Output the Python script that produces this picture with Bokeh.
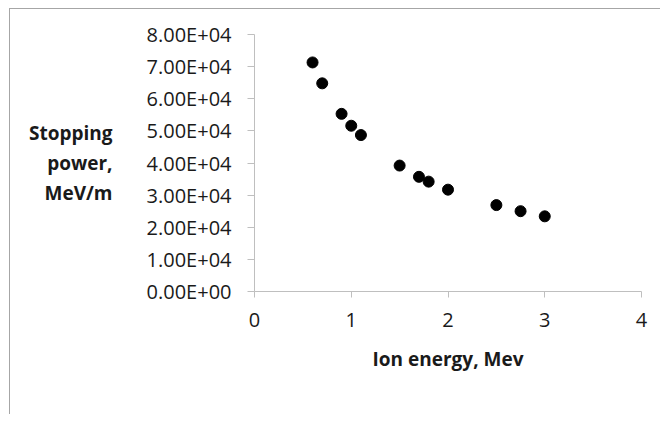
from bokeh.plotting import figure
from bokeh.models import FixedTicker, Range1d
from bokeh.embed import file_html
from bokeh.resources import INLINE

# Data
ion_energy = [0.6, 0.7, 0.9, 1.0, 1.1, 1.5, 1.7, 1.8, 2.0, 2.5, 2.75, 3.0]
stopping_power = [71300, 64800, 55300, 51600, 48700, 39200, 35700, 34200, 31700, 26900, 25000, 23400]

x_ticks = [0, 1, 2, 3, 4]
y_ticks = [0, 10000, 20000, 30000, 40000, 50000, 60000, 70000, 80000]
y_tick_labels = ["0.00E+00", "1.00E+04", "2.00E+04", "3.00E+04", "4.00E+04",
                 "5.00E+04", "6.00E+04", "7.00E+04", "8.00E+04"]

x_title = "Ion energy, Mev"
y_title = "Stopping\npower,\nMeV/m"

FONT = "Open Sans"
AXIS_COLOR = "#BFBFBF"
BORDER_COLOR = "#A6A6A6"
TEXT_COLOR = "#1a1a1a"

p = figure(width=660, height=414, output_backend="svg", toolbar_location=None,
           x_range=Range1d(0, 4), y_range=Range1d(0, 80000),
           min_border_left=254, min_border_right=19, min_border_top=34, min_border_bottom=123)
# outer chart border (left and top edges visible, the rest is cut off)
grad = f"linear-gradient({BORDER_COLOR}, {BORDER_COLOR})"
p.styles = {"background-color": "white",
            "background-image": f"{grad}, {grad}",
            "background-size": "1px 100%, 100% 1px",
            "background-position": "9px 8px, 9px 8px",
            "background-repeat": "no-repeat"}
p.outline_line_color = None
p.xgrid.visible = False
p.ygrid.visible = False
p.background_fill_alpha = 0
p.border_fill_alpha = 0

p.scatter(ion_energy, stopping_power, size=11, color="black")

# axes
p.xaxis.ticker = FixedTicker(ticks=x_ticks)
p.yaxis.ticker = FixedTicker(ticks=y_ticks)
p.yaxis.major_label_overrides = {t: l for t, l in zip(y_ticks, y_tick_labels)}
for ax in (p.xaxis[0], p.yaxis[0]):
    ax.axis_line_color = AXIS_COLOR
    ax.major_tick_line_color = AXIS_COLOR
    ax.minor_tick_line_color = None
    ax.major_tick_in = 0
    ax.major_tick_out = 6
    ax.major_label_text_font = FONT
    ax.major_label_text_font_size = "20px"
    ax.major_label_text_color = TEXT_COLOR
    ax.axis_label_text_font = FONT
    ax.axis_label_text_font_style = "bold"
    ax.axis_label_text_font_size = "19px"
    ax.axis_label_text_color = TEXT_COLOR
p.yaxis.major_tick_out = 7
p.yaxis.major_label_standoff = 16
p.xaxis.major_label_standoff = 15

p.xaxis.axis_label = x_title
p.xaxis.axis_label_standoff = 16

p.yaxis.axis_label = y_title
p.yaxis.axis_label_orientation = "horizontal"
p.yaxis.axis_label_standoff = 31
p.yaxis.axis_label_text_line_height = 1.14

open("out.html", "w").write(file_html(p, INLINE))
